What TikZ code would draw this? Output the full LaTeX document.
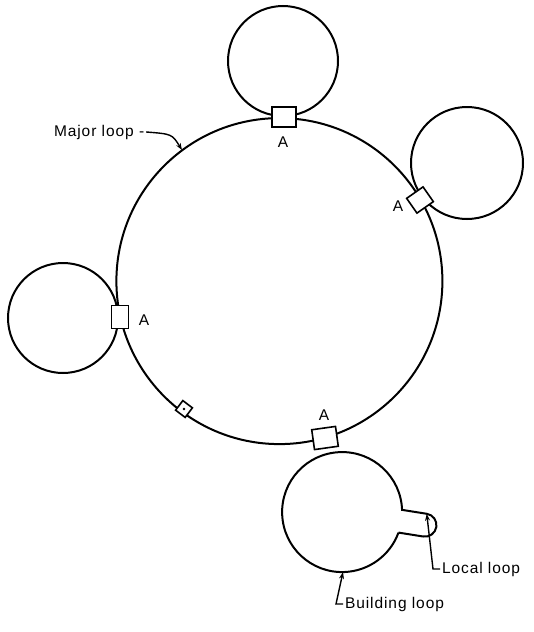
\documentclass[tikz,border=0pt]{standalone}
\usepackage{fontspec}
\setmainfont{Liberation Sans}[LetterSpace=6]
\usetikzlibrary{arrows.meta}
\begin{document}
\begin{tikzpicture}[x=1pt,y=-1pt,line width=2pt,
  loopc/.style={circle,draw,minimum size=#1,inner sep=0pt},
  valve/.style={draw,fill=white,inner sep=0pt,line width=1.6pt},
  lbl/.style={font=\fontsize{15.5}{18}\selectfont,inner sep=1pt},
  ptr/.style={line width=1.4pt,-{Stealth[length=7pt,width=5pt]}}]
\useasboundingbox (0,0) rectangle (534,632);
% loops
\node[loopc=326] (major) at (279.4,281.1) {};
\node[loopc=110] (toploop) at (283,61) {};
\node[loopc=112] (rightloop) at (467,163) {};
\node[loopc=110] (leftloop) at (63,318) {};
% building loop with local loop stub
\coordinate (bc) at (342,512);
\begin{scope}[shift={(bc)},rotate=-9]
  \draw (59.0,11.5) -- (84,11.5) arc[start angle=90,end angle=-90,radius=11.5]
        -- (59.0,-11.5) arc[start angle=-11.1,end angle=-348.9,radius=60];
  \coordinate (localtip) at (84,-11.5);
\end{scope}
\coordinate (buildtip) at (343,572);
\coordinate (majortip) at (182,150);
% valves
\node[valve,minimum width=24,minimum height=20] (va1) at (284,117) {};
\node[valve,minimum width=20,minimum height=18,rotate=35] (va2) at (420,200) {};
\node[valve,minimum width=17,minimum height=23] (va3) at (120,317) {};
\node[valve,minimum width=24,minimum height=20,rotate=8] (va4) at (325,438) {};
\node[valve,minimum size=12,rotate=-37] (vb) at (184,409) {};
\fill (vb.center) circle (1.4);
% A labels
\node[lbl] (a1) at (283,142) {A};
\node[lbl] (a2) at (398,206) {A};
\node[lbl] (a3) at (144,320) {A};
\node[lbl] (a4) at (324,415) {A};
% pointers
\node[lbl,anchor=west] (majl) at (52,132) {Major loop -};
\draw[ptr] (majl.east) .. controls (172,134) .. (majortip);
\node[lbl,anchor=west] (locl) at (440,569) {Local loop};
\draw[ptr] (locl.west) -- ++(-7,0) -- (localtip);
\node[lbl,anchor=west] (bldl) at (343,604) {Building loop};
\draw[ptr] (bldl.west) -- ++(-7,0) -- (buildtip);
\end{tikzpicture}
\end{document}
